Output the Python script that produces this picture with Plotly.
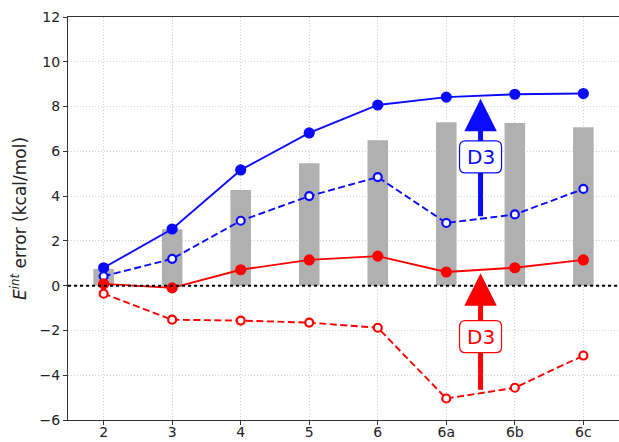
import plotly.graph_objects as go

categories = ["2", "3", "4", "5", "6", "6a", "6b", "6c"]

# gray reference bars
bar_values = [0.75, 2.52, 4.27, 5.47, 6.5, 7.3, 7.27, 7.08]

# blue: with D3 (solid) and without (dashed)
blue_d3 = [0.8, 2.53, 5.17, 6.82, 8.07, 8.42, 8.55, 8.58]
blue_raw = [0.42, 1.2, 2.9, 4.0, 4.85, 2.8, 3.18, 4.32]

# red: with D3 (solid) and without (dashed)
red_d3 = [0.08, -0.1, 0.71, 1.15, 1.32, 0.61, 0.8, 1.15]
red_raw = [-0.36, -1.52, -1.56, -1.65, -1.88, -5.04, -4.56, -3.12]

# D3 shift arrows (start -> end) placed between 6a and 6b
arrow_x = 5.5
blue_arrow = (3.1, 8.35)
red_arrow = (-4.65, 0.55)
blue_label_y = 5.75
red_label_y = -2.28

x_idx = list(range(len(categories)))
BLUE = "#0a0aff"
RED = "#ff0000"

fig = go.Figure()

fig.add_trace(go.Bar(
    x=x_idx, y=bar_values, width=0.3,
    marker=dict(color="#b0b0b0", line=dict(width=0)),
    showlegend=False,
))

def add_line(y, color, dash, filled):
    fig.add_trace(go.Scatter(
        x=x_idx, y=y, mode="lines+markers",
        line=dict(color=color, width=1.9, dash=dash),
        marker=dict(
            size=9 if filled else 8,
            color=color if filled else "white",
            line=dict(color=color, width=2.2),
        ),
        showlegend=False,
    ))

add_line(blue_d3, BLUE, "solid", True)
add_line(blue_raw, BLUE, "7px,3.5px", False)
add_line(red_d3, RED, "solid", True)
add_line(red_raw, RED, "7px,3.5px", False)

# zero reference line
fig.add_shape(type="line", xref="paper", x0=0, x1=1, yref="y", y0=0, y1=0,
              line=dict(color="black", width=2, dash="dot"), layer="above")

def rounded_box(w, h, r):
    x0, x1, y0, y1 = -w / 2, w / 2, -h / 2, h / 2
    return (f"M {x0 + r},{y0} L {x1 - r},{y0} Q {x1},{y0} {x1},{y0 + r} "
            f"L {x1},{y1 - r} Q {x1},{y1} {x1 - r},{y1} L {x0 + r},{y1} "
            f"Q {x0},{y1} {x0},{y1 - r} L {x0},{y0 + r} Q {x0},{y0} {x0 + r},{y0} Z")

HEAD_GAP = 0.5  # shaft stops short of the tip, under the arrowhead

for (y0, y1), color, ly in [(blue_arrow, BLUE, blue_label_y),
                             (red_arrow, RED, red_label_y)]:
    # shaft
    fig.add_shape(type="line", xref="x", yref="y",
                  x0=arrow_x, x1=arrow_x, y0=y0, y1=y1 - HEAD_GAP,
                  line=dict(color=color, width=5), layer="above")
    # label box over the shaft
    fig.add_shape(
        type="path", xref="x", yref="y", xsizemode="pixel", ysizemode="pixel",
        xanchor=arrow_x, yanchor=ly, path=rounded_box(42, 32, 6),
        fillcolor="white", line=dict(color=color, width=1.2), layer="above",
    )
    # arrowhead
    fig.add_annotation(
        x=arrow_x, y=y1, ax=0, ay=20, xref="x", yref="y",
        text="", showarrow=True,
        arrowhead=2, arrowsize=1.3, arrowwidth=5, arrowcolor=color,
        standoff=0,
    )
    fig.add_annotation(
        x=arrow_x, y=ly, xref="x", yref="y", text="D3", showarrow=False,
        font=dict(family="DejaVu Sans", size=20, color=color),
    )

grid = dict(showgrid=True, gridcolor="#cfcfcf", gridwidth=1, griddash="1px,2px")

fig.update_xaxes(
    tickvals=x_idx, ticktext=categories, range=[-0.52, 7.52],
    showline=True, linecolor="#333", linewidth=1.2, mirror=True,
    ticks="outside", ticklen=4, tickcolor="#333", ticklabelstandoff=-5,
    tickfont=dict(family="DejaVu Sans", size=14, color="#222"),
    zeroline=False, automargin=False, **grid,
)
fig.update_yaxes(
    range=[-6, 12], tickvals=list(range(-6, 13, 2)),
    ticktext=[("\u2212" + str(-v)) if v < 0 else str(v) for v in range(-6, 13, 2)],
    showline=True, linecolor="#333", linewidth=1.2,
    ticks="outside", ticklen=4, tickcolor="#333",
    tickfont=dict(family="DejaVu Sans", size=14, color="#222"),
    zeroline=False, automargin=False, **grid,
    title=dict(text="<i>E</i><sup><i>int</i></sup> error (kcal/mol)",
               font=dict(family="DejaVu Sans", size=17, color="#222"),
               standoff=8),
)

fig.update_layout(
    width=619, height=442,
    margin=dict(l=68, r=0, t=17, b=22),
    plot_bgcolor="white", paper_bgcolor="white",
    barmode="overlay",
)

fig.write_html("out.html")
